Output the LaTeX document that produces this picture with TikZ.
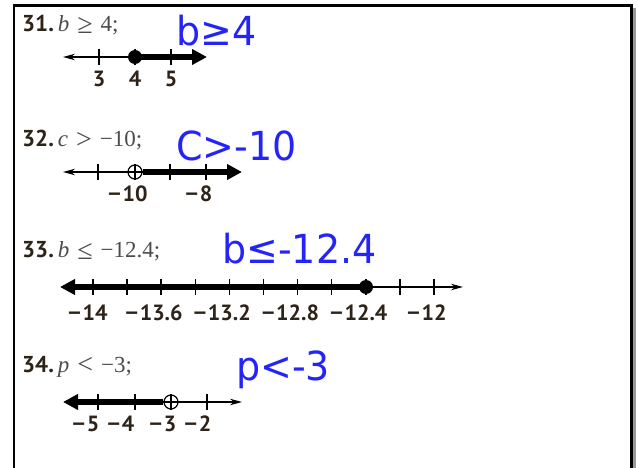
\documentclass[tikz,border=0pt]{standalone}
\usepackage{fontspec}
\setmainfont{Liberation Serif}
\newfontfamily\lbl{PT Sans}
\newfontfamily\lsans{Liberation Sans}
\newfontfamily\hand{DejaVu Sans}[FakeStretch=0.95]
\usetikzlibrary{arrows.meta}
\definecolor{ink}{RGB}{35,35,250}
\definecolor{hd}{RGB}{45,35,25}
\definecolor{mt}{RGB}{75,75,75}
\newcommand{\mn}{\llap{{\lsans\bfseries −}\kern1.5pt}}
\newcommand{\rel}[1]{\hspace{0.35em}\raisebox{-1.8pt}{\fontsize{28}{28}\selectfont #1}\hspace{0.35em}}
\tikzset{
 smalltip/.tip={Stealth[length=12pt,width=6.5pt]},
 bigtip/.tip={Triangle[length=15pt,width=15pt]},
}
\begin{document}
\begin{tikzpicture}[x=1pt,y=-1pt,
 nlthin/.style={line width=1.3pt},
 nlthick/.style={line width=6.5pt},
 tickline/.style={line width=1.5pt},
 lab/.style={anchor=base, inner sep=0pt, font=\lbl\bfseries\fontsize{22}{22}\selectfont, text=hd},
 head/.style={anchor=base west, inner sep=0pt, font=\fontsize{23}{23}\selectfont, text=mt},
 handw/.style={anchor=base west, inner sep=0pt, text=ink, font=\hand\fontsize{40}{40}\selectfont},
 ptclosed/.style={circle, fill=black, inner sep=0pt, minimum size=14pt},
 ptopen/.style={circle, draw=black, line width=1.2pt, inner sep=0pt, minimum size=14pt},
]
\useasboundingbox (0,0) rectangle (638,468);
% frame
\fill[gray!80] (632,8) rectangle (636,468);
\draw[line width=2.2pt] (14,468) -- (14,5.5) -- (631.5,5.5) -- (631.5,468);

% ---------- 31 ----------
\node[head] (h31) at (22,32) {{\lbl\bfseries\color{hd}31.}\,\textit{b}\rel{≥}4;};
\node[handw] (w31) at (176,46) {b≥4};
\foreach \x in {99,135,171} \draw[tickline] (\x,49) -- (\x,65);
\node[ptclosed] (d31) at (135,57) {};
\coordinate (l31) at (63,57);
\coordinate (r31) at (207,57);
\draw[nlthin, smalltip-] (l31) -- (d31.center);
\draw[nlthick, -bigtip] (d31.center) -- (r31);
\node[lab] (a31) at (99,87) {3};
\node[lab] (b31) at (135,87) {4};
\node[lab] (c31) at (171,87) {5};

% ---------- 32 ----------
\node[head] (h32) at (22,147) {{\lbl\bfseries\color{hd}32.}\,\textit{c}\rel{>}−10;};
\node[handw] (w32) at (176,161) {C>-10};
\foreach \x in {98,135,170,206} \draw[tickline] (\x,164) -- (\x,180);
\node[ptopen] (o32) at (135,172) {};
\coordinate (l32) at (63,172);
\coordinate (r32) at (242,172);
\draw[nlthin, smalltip-] (l32) -- (o32.east);
\draw[nlthick, -bigtip] (o32.east) -- (r32);
\node[lab] (a32) at (135,202) {\mn10};
\node[lab] (b32) at (206,202) {\mn8};

% ---------- 33 ----------
\node[head] (h33) at (22,258) {{\lbl\bfseries\color{hd}33.}\,\textit{b}\rel{≤}−12.4;};
\node[handw] (w33) at (222,264) {b≤-12.4};
\foreach \k in {0,...,10} \draw[tickline] (93+34.1*\k,279) -- (93+34.1*\k,295);
\node[ptclosed] (d33) at (366,287) {};
\coordinate (l33) at (60,287);
\coordinate (r33) at (463,287);
\draw[nlthick, bigtip-] (l33) -- (d33.center);
\draw[nlthin, -smalltip] (d33.center) -- (r33);
\node[lab] (a33) at (95,320) {\mn14};
\node[lab] (b33) at (161.2,320) {\mn13.6};
\node[lab] (c33) at (229.4,320) {\mn13.2};
\node[lab] (e33) at (297.6,320) {\mn12.8};
\node[lab] (f33) at (366,320) {\mn12.4};
\node[lab] (g33) at (434,320) {\mn12};

% ---------- 34 ----------
\node[head] (h34) at (22,372) {{\lbl\bfseries\color{hd}34.}\,\textit{p}\rel{<}−3;};
\node[handw] (w34) at (236,380) {p<-3};
\foreach \x in {98,135,171,207} \draw[tickline] (\x,394) -- (\x,410);
\node[ptopen] (o34) at (171,402) {};
\coordinate (l34) at (63,402);
\coordinate (r34) at (242,402);
\draw[nlthick, bigtip-] (l34) -- (o34.west);
\draw[nlthin, -smalltip] (o34.west) -- (r34);
\node[lab] (a34) at (93,431) {\mn5};
\node[lab] (b34) at (128,431) {\mn4};
\node[lab] (c34) at (170,431) {\mn3};
\node[lab] (e34) at (205,431) {\mn2};
\end{tikzpicture}
\end{document}
